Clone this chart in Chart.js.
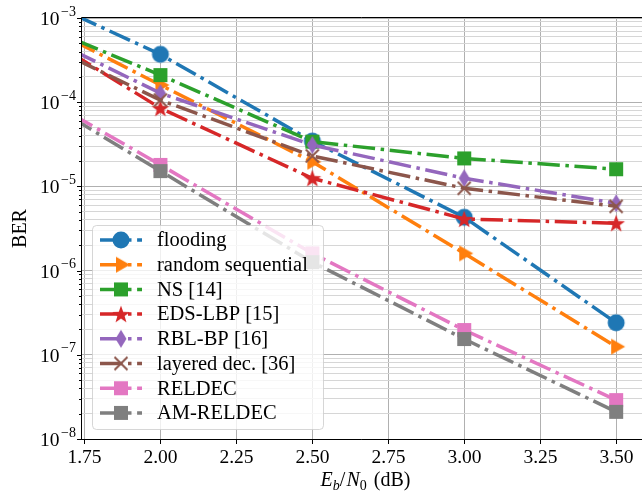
<!DOCTYPE html>
<html>
<head>
<meta charset="utf-8">
<script src="https://cdn.jsdelivr.net/npm/chart.js@4.4.1/dist/chart.umd.min.js"></script>
<style>
  html, body { margin: 0; padding: 0; background: #fff; }
  canvas { display: block; }
</style>
</head>
<body>
<canvas id="ber" width="642" height="491"></canvas>
<script>
// Eb/N0 points (dB); the first one lies left of the visible axis
const ebn0 = [1.5, 2.0, 2.5, 3.0, 3.5];

const flooding   = [2.5e-3, 3.7e-4, 3.45e-5, 4.3e-6, 2.4e-7];
const randomSeq  = [1.33e-3, 1.6e-4, 1.96e-5, 1.6e-6, 1.25e-7];
const nsRef      = [1.17e-3, 2.1e-4, 3.4e-5, 2.15e-5, 1.6e-5];
const edsLbp     = [1.1e-3, 8.5e-5, 1.25e-5, 4.1e-6, 3.65e-6];
const rblBp      = [9.7e-4, 1.28e-4, 3.1e-5, 1.25e-5, 6.3e-6];
const layered    = [7.8e-4, 1.06e-4, 2.3e-5, 9.5e-6, 5.8e-6];
const reldec     = [1.95e-4, 1.8e-5, 1.6e-6, 1.97e-7, 2.9e-8];
const amReldec   = [1.84e-4, 1.52e-5, 1.26e-6, 1.54e-7, 2.1e-8];

const names = ['flooding', 'random sequential', 'NS [14]', 'EDS-LBP [15]',
               'RBL-BP [16]', 'layered dec. [36]', 'RELDEC', 'AM-RELDEC'];
const values = [flooding, randomSeq, nsRef, edsLbp, rblBp, layered, reldec, amReldec];
const colors = ['#1f77b4', '#ff7f0e', '#2ca02c', '#d62728', '#9467bd', '#8c564b', '#e377c2', '#7f7f7f'];
const markers = ['circle', 'triRight', 'square', 'star', 'thinDiamond', 'x', 'square', 'square'];

const xTicks = [1.75, 2.0, 2.25, 2.5, 2.75, 3.0, 3.25, 3.5];
const xTickLabels = ['1.75', '2.00', '2.25', '2.50', '2.75', '3.00', '3.25', '3.50'];
const yExps = [-8, -7, -6, -5, -4, -3];

const FONT = '"Liberation Serif", "Times New Roman", serif';
const serif = (px, italic) => (italic ? 'italic ' : '') + px + 'px ' + FONT;
const LW = 3.5;
const DASH = [6.4 * LW, 1.6 * LW, LW, 1.6 * LW];

function makeMarker(kind, color) {
  const c = document.createElement('canvas');
  c.width = 24; c.height = 24;
  const g = c.getContext('2d');
  const m = 12;
  g.fillStyle = color; g.strokeStyle = color;
  g.beginPath();
  if (kind === 'circle') {
    g.arc(m, m, 8.5, 0, Math.PI * 2);
    g.fill();
  } else if (kind === 'square') {
    g.fillRect(m - 7, m - 7, 14, 14);
  } else if (kind === 'triRight') {
    g.moveTo(m + 9, m); g.lineTo(m - 5, m - 8); g.lineTo(m - 5, m + 8);
    g.closePath(); g.fill();
  } else if (kind === 'star') {
    for (let i = 0; i < 10; i++) {
      const r = i % 2 ? 3.8 : 9.3;
      const ang = -Math.PI / 2 + i * Math.PI / 5;
      const px = m + r * Math.cos(ang), py = m + 0.8 + r * Math.sin(ang);
      if (i) g.lineTo(px, py); else g.moveTo(px, py);
    }
    g.closePath(); g.fill();
  } else if (kind === 'thinDiamond') {
    g.moveTo(m, m - 9); g.lineTo(m + 5.5, m); g.lineTo(m, m + 9); g.lineTo(m - 5.5, m);
    g.closePath(); g.fill();
  } else if (kind === 'x') {
    g.lineWidth = 2;
    g.moveTo(m - 6.5, m - 6.5); g.lineTo(m + 6.5, m + 6.5);
    g.moveTo(m - 6.5, m + 6.5); g.lineTo(m + 6.5, m - 6.5);
    g.stroke();
  }
  return c;
}

const markerImgs = markers.map((k, i) => makeMarker(k, colors[i]));

const datasets = names.map((name, i) => ({
  label: name,
  data: ebn0.map((x, j) => ({ x: x, y: values[i][j] })),
  borderColor: colors[i],
  backgroundColor: colors[i],
  borderWidth: LW,
  borderDash: DASH,
  pointStyle: markerImgs[i],
  pointRadius: 8,
  tension: 0,
  order: names.length - i
}));

const isMajor = v => Math.abs(Math.log10(v) - Math.round(Math.log10(v))) < 1e-6;

const decor = {
  id: 'decor',
  afterDatasetsDraw(chart) {
    const ctx = chart.ctx;
    ctx.save();
    // legend box, inside the plot (lower left)
    ctx.beginPath();
    ctx.roundRect(92.5, 225.5, 231, 204, 4);
    ctx.fillStyle = 'rgba(255,255,255,0.8)';
    ctx.fill();
    ctx.strokeStyle = 'rgba(204,204,204,0.8)';
    ctx.lineWidth = 1;
    ctx.stroke();
    names.forEach((name, i) => {
      const yr = 240 + i * 24.7;
      ctx.beginPath();
      ctx.setLineDash(DASH);
      ctx.lineWidth = LW;
      ctx.strokeStyle = colors[i];
      ctx.moveTo(100, yr); ctx.lineTo(142, yr);
      ctx.stroke();
      ctx.setLineDash([]);
      const im = markerImgs[i];
      ctx.drawImage(im, 121 - im.width / 2, yr - im.height / 2);
      ctx.fillStyle = '#000';
      ctx.font = serif(20.5);
      ctx.textBaseline = 'middle';
      ctx.textAlign = 'left';
      ctx.fillText(name, 157, yr + 1);
    });
    ctx.restore();
  },
  afterDraw(chart) {
    const { ctx, chartArea: a, scales: { x, y } } = chart;
    ctx.save();
    ctx.strokeStyle = '#000';
    ctx.lineWidth = 1;
    // spines (right spine lies outside the picture)
    ctx.beginPath();
    ctx.moveTo(a.left - 0.5, a.top - 0.5); ctx.lineTo(a.left - 0.5, a.bottom + 0.5);
    ctx.moveTo(a.left - 0.5, a.top - 0.5); ctx.lineTo(a.right, a.top - 0.5);
    ctx.moveTo(a.left - 0.5, a.bottom + 0.5); ctx.lineTo(a.right, a.bottom + 0.5);
    ctx.stroke();
    // x ticks and labels
    ctx.fillStyle = '#000';
    ctx.font = serif(19.5);
    ctx.textAlign = 'center';
    ctx.textBaseline = 'alphabetic';
    xTicks.forEach((v, i) => {
      const px = Math.round(x.getPixelForValue(v)) + 0.5;
      ctx.beginPath();
      ctx.moveTo(px, a.bottom); ctx.lineTo(px, a.bottom + 5);
      ctx.stroke();
      ctx.fillText(xTickLabels[i], px, 463);
    });
    // y ticks (major + minor) and labels 10^n
    yExps.forEach(e => {
      for (let k = 1; k <= 9; k++) {
        const v = k * Math.pow(10, e);
        if (v > 1.0001e-3) break;
        const py = Math.round(y.getPixelForValue(v)) + 0.5;
        ctx.beginPath();
        ctx.moveTo(a.left - (k === 1 ? 5 : 3), py); ctx.lineTo(a.left, py);
        ctx.stroke();
      }
      const py = y.getPixelForValue(Math.pow(10, e));
      const exp = '\u2212' + Math.abs(e);
      ctx.textAlign = 'left';
      ctx.font = serif(14);
      const ew = ctx.measureText(exp).width;
      ctx.font = serif(19.5);
      const bw = ctx.measureText('10').width;
      const right = 76;
      ctx.fillText('10', right - ew - 1.5 - bw, py + 7);
      ctx.font = serif(14);
      ctx.fillText(exp, right - ew, py - 2.5);
    });
    // y title
    ctx.save();
    ctx.translate(21, (a.top + a.bottom) / 2);
    ctx.rotate(-Math.PI / 2);
    ctx.font = serif(20);
    ctx.textAlign = 'center';
    ctx.textBaseline = 'middle';
    ctx.fillText('BER', 0, 0);
    ctx.restore();
    // x title: E_b/N_0 (dB)
    const parts = [
      ['E', serif(20, true), 0], ['b', serif(14, true), 3.5], ['/', serif(20), 0],
      ['N', serif(20, true), 0], ['0', serif(14), 3.5], [' (dB)', serif(20), 0]
    ];
    let total = 0;
    parts.forEach(p => { ctx.font = p[1]; p.push(ctx.measureText(p[0]).width); total += p[3]; });
    let cx = 364 - total / 2;
    ctx.textAlign = 'left';
    ctx.textBaseline = 'alphabetic';
    parts.forEach(p => {
      ctx.font = p[1];
      ctx.fillText(p[0], cx, 486 + p[2]);
      cx += p[3] + (p[0] === '/' ? 1 : 0) + (p[0] === '0' ? 2 : 0);
    });
    ctx.restore();
  }
};

new Chart(document.getElementById('ber'), {
  type: 'line',
  data: { datasets: datasets },
  options: {
    responsive: false,
    animation: false,
    events: [],
    devicePixelRatio: 1,
    layout: { autoPadding: false, padding: { top: 18, right: 0, left: 0, bottom: 0 } },
    plugins: { legend: { display: false }, tooltip: { enabled: false } },
    scales: {
      x: {
        type: 'linear',
        min: 1.742,
        max: 3.585,
        afterBuildTicks: s => { s.ticks = xTicks.map(v => ({ value: v })); },
        afterFit: s => { s.height = 52; },
        ticks: { display: false, autoSkip: false },
        grid: { color: '#b0b0b0', lineWidth: 1, drawTicks: false },
        border: { display: false }
      },
      y: {
        type: 'logarithmic',
        min: 1e-8,
        max: 1e-3,
        afterBuildTicks: s => {
          const t = [];
          yExps.forEach(e => {
            for (let k = 1; k <= 9; k++) {
              const v = k * Math.pow(10, e);
              if (v <= 1.0001e-3) t.push({ value: v, major: k === 1 });
            }
          });
          s.ticks = t;
        },
        afterFit: s => { s.width = 82; },
        ticks: { display: false, autoSkip: false },
        grid: {
          color: c => (c.tick && isMajor(c.tick.value)) ? '#b0b0b0' : '#d6d6d6',
          lineWidth: 1,
          drawTicks: false
        },
        border: { display: false }
      }
    }
  },
  plugins: [decor]
});
</script>
</body>
</html>
